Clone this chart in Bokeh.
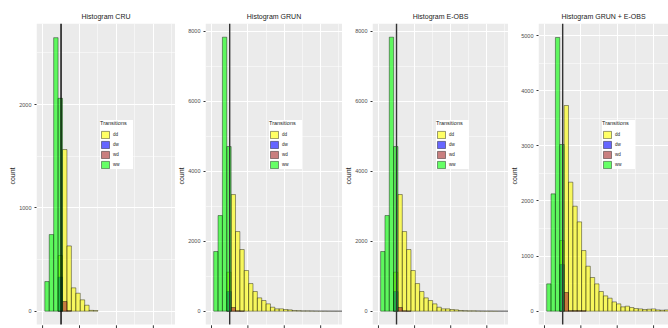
from bokeh.plotting import figure
from bokeh.layouts import row
from bokeh.models import (Range1d, FixedTicker, Legend, LegendItem,
                          ColumnDataSource, BoxAnnotation)
from bokeh.embed import file_html
from bokeh.resources import INLINE

FONT = "Liberation Sans"

# ---------------- data ----------------
TITLES = ["Histogram CRU", "Histogram GRUN", "Histogram E-OBS", "Histogram GRUN + E-OBS"]
TRANSITIONS = ["dd", "dw", "wd", "ww"]
COLORS = ["#FFFF00", "#0000FF", "#A52A2A", "#00FF00"]

BIN_WIDTH = 1.2
BINS = [1.2, 2.4, 3.6, 4.8, 6.0, 7.2, 8.4, 9.6, 10.8, 12.0,
        13.2, 14.4, 15.6, 16.8, 18.0, 19.2, 20.4, 21.6, 22.8, 24.0,
        25.2, 26.4, 27.6, 28.8, 30.0, 31.2, 32.4, 33.6, 34.8, 36.0]
THRESHOLD = 5
X_TICKS = [0, 10, 20, 30]
X_MINOR = [-5, 5, 15, 25, 35]

cru_dd = [0, 0, 0, 539, 1565, 632, 226, 174, 110, 58, 8, 6, 0, 0, 0,
          0, 0, 0, 0, 0, 0, 0, 0, 0, 0, 0, 0, 0, 0, 0]
cru_dw = [0, 0, 0, 329, 0, 0, 0, 0, 0, 0, 0, 0, 0, 0, 0,
          0, 0, 0, 0, 0, 0, 0, 0, 0, 0, 0, 0, 0, 0, 0]
cru_wd = [0, 0, 0, 0, 94, 5, 0, 0, 0, 0, 0, 0, 0, 0, 0,
          0, 0, 0, 0, 0, 0, 0, 0, 0, 0, 0, 0, 0, 0, 0]
cru_ww = [287, 742, 2648, 2061, 0, 0, 0, 0, 0, 0, 0, 0, 0, 0, 0,
          0, 0, 0, 0, 0, 0, 0, 0, 0, 0, 0, 0, 0, 0, 0]

grun_dd = [0, 0, 0, 1114, 3333, 2276, 1762, 1162, 790, 562, 381, 305, 210, 114, 67,
           67, 48, 38, 19, 15, 10, 10, 8, 6, 5, 4, 3, 2, 2, 1]
grun_dw = [0, 0, 0, 562, 0, 0, 0, 0, 0, 0, 0, 0, 0, 0, 0,
           0, 0, 0, 0, 0, 0, 0, 0, 0, 0, 0, 0, 0, 0, 0]
grun_wd = [0, 0, 0, 0, 105, 10, 5, 0, 0, 0, 0, 0, 0, 0, 0,
           0, 0, 0, 0, 0, 0, 0, 0, 0, 0, 0, 0, 0, 0, 0]
grun_ww = [1705, 2733, 7829, 4705, 0, 0, 0, 0, 0, 0, 0, 0, 0, 0, 0,
           0, 0, 0, 0, 0, 0, 0, 0, 0, 0, 0, 0, 0, 0, 0]

eobs_dd = [0, 0, 0, 1114, 3333, 2276, 1762, 1162, 790, 562, 381, 305, 210, 114, 67,
           67, 48, 38, 19, 15, 10, 10, 8, 6, 5, 4, 3, 2, 2, 1]
eobs_dw = [0, 0, 0, 562, 0, 0, 0, 0, 0, 0, 0, 0, 0, 0, 0,
           0, 0, 0, 0, 0, 0, 0, 0, 0, 0, 0, 0, 0, 0, 0]
eobs_wd = [0, 0, 0, 0, 105, 10, 5, 0, 0, 0, 0, 0, 0, 0, 0,
           0, 0, 0, 0, 0, 0, 0, 0, 0, 0, 0, 0, 0, 0, 0]
eobs_ww = [1705, 2733, 7829, 4705, 0, 0, 0, 0, 0, 0, 0, 0, 0, 0, 0,
           0, 0, 0, 0, 0, 0, 0, 0, 0, 0, 0, 0, 0, 0, 0]

both_dd = [0, 0, 0, 1282, 3730, 2340, 1904, 1620, 1100, 816, 611, 496, 357, 278, 236,
           169, 133, 79, 91, 66, 48, 42, 30, 36, 42, 24, 18, 24, 15, 12]
both_dw = [0, 0, 0, 846, 0, 0, 0, 0, 0, 0, 0, 0, 0, 0, 0,
           0, 0, 0, 0, 0, 0, 0, 0, 0, 0, 0, 0, 0, 0, 0]
both_wd = [0, 0, 0, 0, 339, 10, 10, 10, 8, 0, 0, 0, 0, 0, 0,
           0, 0, 0, 0, 0, 0, 0, 0, 0, 0, 0, 0, 0, 0, 0]
both_ww = [496, 2128, 4964, 3023, 0, 0, 0, 0, 0, 0, 0, 0, 0, 0, 0,
           0, 0, 0, 0, 0, 0, 0, 0, 0, 0, 0, 0, 0, 0, 0]

Y_TICKS = [[0, 1000, 2000], [0, 2000, 4000, 6000, 8000],
           [0, 2000, 4000, 6000, 8000], [0, 1000, 2000, 3000, 4000, 5000]]
Y_MINOR = [[500, 1500, 2500], [1000, 3000, 5000, 7000],
           [1000, 3000, 5000, 7000], [500, 1500, 2500, 3500, 4500]]

# ---------------- layout (pixels) ----------------
HEIGHT = 328
FRAME_TOP = 23          # frame top (page px)
ZERO_PX = 310.7         # page y of count 0
PANEL_BOTTOM = 324      # bottom of the grey panel
TICK_TOP = 324.8
PX_PER_COUNT = [0.1033, 0.035, 0.035, 0.05514]
WIDTHS = [175, 167, 166, 160]
BORDERS = [36, 28, 27, 28]
FRAME_W = [139, 139, 139, 132]
X_START = -1.65
X_SPAN_139 = 37.65
VLINE_COLORS = ["#000000", "#333333", "#333333", "#333333"]
LEGEND_X = 64
LEGEND_BOTTOM = 169


def panel(i, dd, dw, wd, ww):
    s = PX_PER_COUNT[i]
    y_end = (ZERO_PX - FRAME_TOP) / s
    y_start = -(HEIGHT - ZERO_PX) / s
    box_bottom = -(PANEL_BOTTOM - ZERO_PX) / s
    tick_top = -(TICK_TOP - ZERO_PX) / s
    x_end = X_START + X_SPAN_139 * FRAME_W[i] / 139.0

    p = figure(width=WIDTHS[i], height=HEIGHT,
               x_range=Range1d(X_START, x_end), y_range=Range1d(y_start, y_end),
               output_backend="svg", toolbar_location=None,
               min_border_left=BORDERS[i], min_border_right=0,
               min_border_top=FRAME_TOP, min_border_bottom=0,
               background_fill_color="white", border_fill_color="white",
               outline_line_color=None, title=TITLES[i], x_axis_location=None)
    p.title.text_font = FONT
    p.title.text_font_size = "7px"
    p.title.text_font_style = "normal"
    p.title.text_color = "#222222"
    p.title.align = "center"
    p.title.standoff = 8

    # grey panel (drawn beneath grid lines)
    p.add_layout(BoxAnnotation(bottom=box_bottom, fill_color="#EBEBEB",
                               fill_alpha=1.0, line_color=None, level="image"))

    renderers = []
    for counts, color in zip([dd, dw, wd, ww], COLORS):
        xs = [b for b, c in zip(BINS, counts) if c > 0]
        ys = [c for c in counts if c > 0]
        src = ColumnDataSource(dict(x=xs, top=ys))
        r = p.vbar(x="x", top="top", bottom=0, width=BIN_WIDTH, source=src,
                   fill_color=color, fill_alpha=0.6,
                   line_color="black", line_alpha=0.5, line_width=0.8)
        renderers.append(r)

    # threshold line across the grey panel
    p.segment(x0=[THRESHOLD], y0=[box_bottom], x1=[THRESHOLD], y1=[y_end],
              line_color=VLINE_COLORS[i], line_width=1.4)

    # x tick marks below the panel (no labels)
    p.segment(x0=X_TICKS, y0=[tick_top] * len(X_TICKS),
              x1=X_TICKS, y1=[y_start] * len(X_TICKS),
              line_color="#333333", line_width=1)

    xt = FixedTicker(ticks=X_TICKS, minor_ticks=X_MINOR)
    yt = FixedTicker(ticks=Y_TICKS[i], minor_ticks=Y_MINOR[i])
    p.xgrid.ticker = xt
    p.yaxis.ticker = yt
    p.ygrid.ticker = yt

    for g in (p.xgrid, p.ygrid):
        g.grid_line_color = "white"
        g.grid_line_width = 1.1
        g.minor_grid_line_color = "white"
        g.minor_grid_line_width = 0.5

    p.yaxis.axis_label = "count"
    p.yaxis.axis_label_text_font = FONT
    p.yaxis.axis_label_text_font_size = "7px"
    p.yaxis.axis_label_text_font_style = "normal"
    p.yaxis.axis_label_text_color = "#222222"
    p.yaxis.axis_label_standoff = 0
    p.yaxis.major_label_text_font = FONT
    p.yaxis.major_label_text_font_size = "5.5px"
    p.yaxis.major_label_text_color = "#4D4D4D"
    p.yaxis.major_label_standoff = 1
    p.yaxis.axis_line_color = None
    p.yaxis.major_tick_line_color = "#333333"
    p.yaxis.major_tick_out = 2
    p.yaxis.major_tick_in = 0
    p.yaxis.minor_tick_line_color = None

    legend = Legend(items=[LegendItem(label=n, renderers=[r])
                           for n, r in zip(TRANSITIONS, renderers)],
                    title="Transitions", location=(LEGEND_X, HEIGHT - LEGEND_BOTTOM),
                    background_fill_color="white", background_fill_alpha=1.0,
                    border_line_color=None, padding=4, spacing=1, margin=0,
                    glyph_height=9, glyph_width=10, label_height=9,
                    label_width=20, label_standoff=3,
                    label_text_font=FONT, label_text_font_size="4.5px",
                    label_text_color="#222222",
                    title_text_font=FONT, title_text_font_size="5.5px",
                    title_text_font_style="normal", title_text_color="#222222",
                    title_standoff=4)
    p.add_layout(legend)
    return p


figs = [
    panel(0, cru_dd, cru_dw, cru_wd, cru_ww),
    panel(1, grun_dd, grun_dw, grun_wd, grun_ww),
    panel(2, eobs_dd, eobs_dw, eobs_wd, eobs_ww),
    panel(3, both_dd, both_dw, both_wd, both_ww),
]

layout = row(*figs)
open("out.html", "w").write(file_html(layout, INLINE))
